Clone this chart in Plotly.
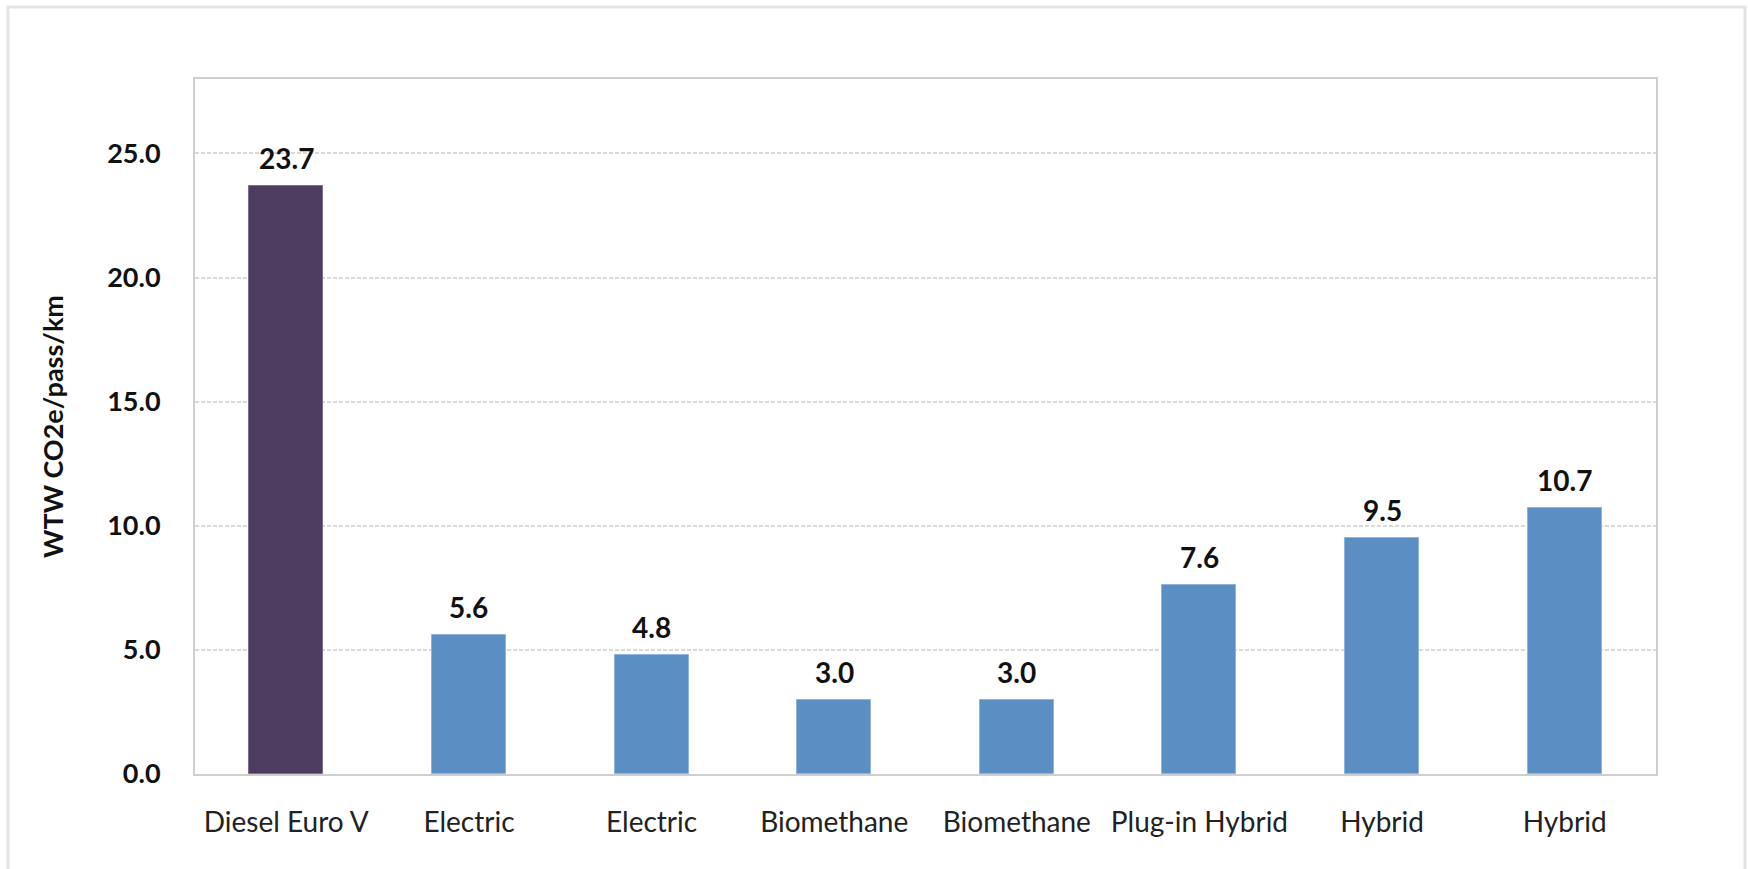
import plotly.graph_objects as go

categories = ["Diesel Euro V", "Electric", "Electric", "Biomethane", "Biomethane",
              "Plug-in Hybrid", "Hybrid", "Hybrid"]
values = [23.7, 5.6, 4.8, 3.0, 3.0, 7.6, 9.5, 10.7]
bar_colors = ["#4d3b60"] + ["#5b8fc4"] * 7
edge_colors = ["#7d6d90"] + ["#8fb4de"] * 7
y_ticks = [0, 5, 10, 15, 20, 25]
y_ticktext = ["0.0", "5.0", "10.0", "15.0", "20.0", "25.0"]
y_title = "WTW CO2e/pass/km"

W, H = 1748, 869
L, R, T, B = 195, 92, 79, 95
pw, ph = W - L - R, H - T - B

xs = list(range(len(categories)))

fig = go.Figure()
fig.add_trace(go.Bar(
    x=xs, y=values, width=0.405,
    marker=dict(color=bar_colors, line=dict(color=edge_colors, width=1)),
    hoverinfo="skip",
))

for x, v in zip(xs, values):
    fig.add_annotation(x=x, y=v, text=f"<b>{v:.1f}</b>", showarrow=False,
                       yanchor="bottom", yshift=9,
                       font=dict(family="Lato", size=28, color="#111111"))

def px_to_paper_x(p):
    return (p - L) / pw

def px_to_paper_y(p):
    return (H - B - p) / ph

fig.add_shape(type="rect", xref="paper", yref="paper",
              x0=px_to_paper_x(8), x1=px_to_paper_x(1745),
              y0=px_to_paper_y(900), y1=px_to_paper_y(7),
              line=dict(color="#e4e4e4", width=3), fillcolor="rgba(0,0,0,0)",
              layer="below")

fig.update_layout(
    width=W, height=H,
    margin=dict(l=L, r=R, t=T, b=B, pad=0),
    paper_bgcolor="white", plot_bgcolor="white",
    showlegend=False, bargap=0,
    font=dict(family="Lato", color="#111111"),
    xaxis=dict(
        range=[-0.5, len(categories) - 0.5],
        tickvals=xs, ticktext=categories,
        tickfont=dict(family="Lato", size=28, color="#222222"),
        showgrid=False, zeroline=False,
        showline=True, linecolor="#cfcfcf", linewidth=2, mirror=True,
        ticks="", ticklabelstandoff=22,
    ),
    yaxis=dict(
        range=[0, 28],
        tickvals=y_ticks, ticktext=[f"<b>{t}</b>" for t in y_ticktext],
        tickfont=dict(family="Lato", size=27, color="#111111"),
        showgrid=True, gridcolor="#d9d9d9", gridwidth=2, griddash="4px,2px",
        zeroline=False,
        showline=True, linecolor="#cfcfcf", linewidth=2, mirror=True,
        ticks="", ticklabelstandoff=27,
        title=dict(text=f"<b>{y_title}</b>", font=dict(family="Lato", size=27, color="#111111"),
                   standoff=36),
    ),
)

fig.write_html("out.html")
